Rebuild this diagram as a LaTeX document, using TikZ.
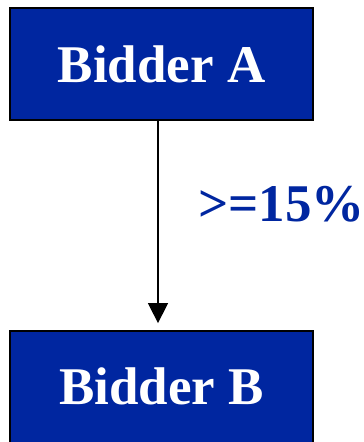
\documentclass[tikz,border=0pt]{standalone}
\usepackage{fontspec}
\setmainfont{Liberation Serif}
\usetikzlibrary{arrows.meta}
\definecolor{boxblue}{HTML}{0026A0}
\begin{document}
\begin{tikzpicture}[x=1pt,y=1pt,
  bidbox/.style={draw=black,line width=2pt,fill=boxblue,text=white,
    minimum width=303pt,minimum height=112pt,inner sep=0pt,
    font=\fontsize{53}{60}\selectfont\bfseries},
  conn/.style={line width=1.5pt,-{Triangle[length=20pt,width=20pt]}}]
\useasboundingbox (0,0) rectangle (364,442);
\node[bidbox] (A) at (161.5,378) {Bidder A};
\node[bidbox] (B) at (161.5,55.4) {Bidder B};
\draw[conn] ([xshift=-3.5pt]A.south) -- ([xshift=-3.5pt,yshift=6.5pt]B.north);
\node[anchor=base west,inner sep=0pt,text=boxblue,font=\fontsize{53}{60}\selectfont\bfseries] (lbl) at (198,220) {>=15\%};
\end{tikzpicture}
\end{document}
